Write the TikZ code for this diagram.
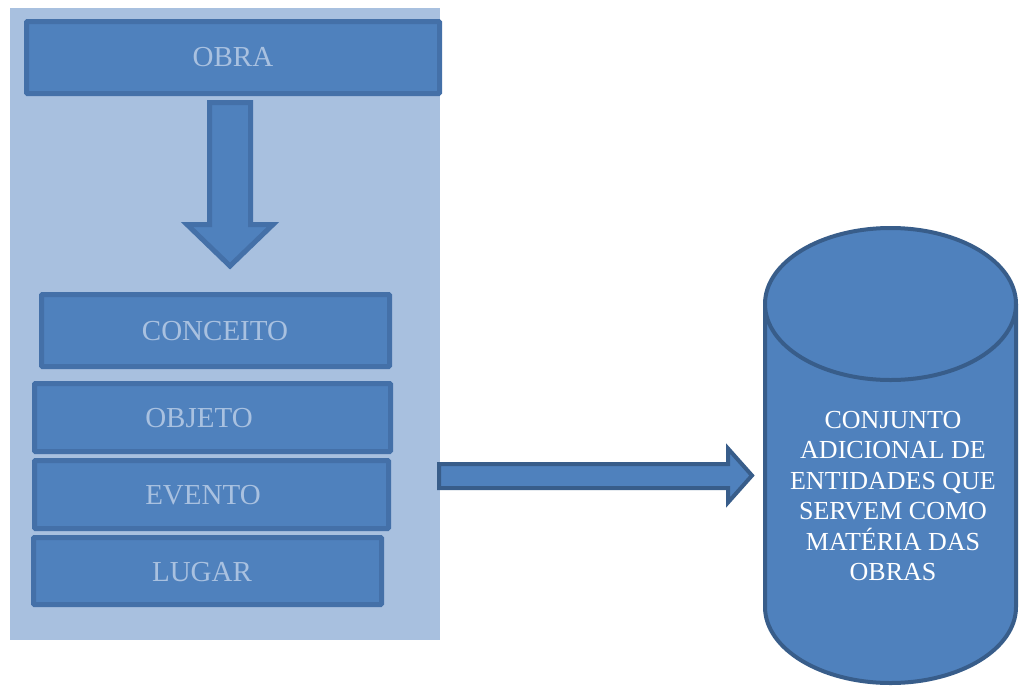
\documentclass[tikz,border=0pt]{standalone}
\usepackage{fontspec}
\setmainfont{Liberation Serif}
\definecolor{bgblue}{HTML}{A8C0DF}
\definecolor{fillblue}{HTML}{4F81BD}
\definecolor{boxline}{HTML}{4470A8}
\definecolor{darkline}{HTML}{385D8A}
\definecolor{paletext}{HTML}{A9C1E0}
\tikzset{
  bgbox/.style={fill=bgblue, draw=none, inner sep=0pt},
  entbox/.style={fill=fillblue, draw=boxline, line width=5pt, rounded corners=1pt, inner sep=0pt},
  boxtext/.style={text=paletext, font=\fontsize{29}{33}\selectfont, inner sep=0pt},
  cyltext/.style={text=white, font=\fontsize{26}{30.5}\selectfont, align=center, inner sep=0pt},
  blockarrowA/.style={fill=fillblue, draw=boxline, line width=5pt, line join=miter},
  blockarrowB/.style={fill=fillblue, draw=darkline, line width=4pt, line join=miter},
  cylstyle/.style={fill=fillblue, draw=darkline, line width=4pt},
}
\begin{document}
\begin{tikzpicture}[x=1pt, y=-1pt]
\useasboundingbox (0,0) rectangle (1020,686);
% background panel
\node[bgbox, minimum width=430pt, minimum height=632pt] (bg) at (225,324) {};
% OBRA
\node[entbox, minimum width=413pt, minimum height=72pt] (obra) at (233,57.5) {};
\node[boxtext] (obratxt) at (obra.center) {OBRA};
% down block arrow
\draw[blockarrowA] (209.5,102.5) -- (250.5,102.5) -- (250.5,224.5) -- (273,224.5) -- (230,266) -- (187,224.5) -- (209.5,224.5) -- cycle;
% entity boxes
\node[entbox, minimum width=348pt, minimum height=72pt] (conceito) at (215.5,330.5) {};
\node[boxtext] (conceitotxt) at (215,331) {CONCEITO};
\node[entbox, minimum width=356pt, minimum height=68pt] (objeto) at (212.5,417.5) {};
\node[boxtext] (objetotxt) at (199,418) {OBJETO};
\node[entbox, minimum width=354pt, minimum height=68pt] (evento) at (211.5,494.5) {};
\node[boxtext] (eventotxt) at (203,495) {EVENTO};
\node[entbox, minimum width=348pt, minimum height=67pt] (lugar) at (207.5,571) {};
\node[boxtext] (lugartxt) at (202,572) {LUGAR};
% right block arrow
\draw[blockarrowB] (439,464) -- (728,464) -- (728,448.5) -- (752,475.5) -- (728,502.5) -- (728,488) -- (439,488) -- cycle;
% cylinder
\fill[fillblue] (765,304) rectangle (1016,607);
\fill[fillblue] (890.5,607) ellipse [x radius=125.5pt, y radius=76pt];
\draw[darkline, line width=4pt] (765,304) -- (765,607) arc[start angle=180, end angle=360, x radius=125.5pt, y radius=76pt] -- (1016,304);
\draw[cylstyle] (890.5,304) ellipse [x radius=125.5pt, y radius=76pt];
\node[cyltext] (cyl) at (893,496) {CONJUNTO\\ADICIONAL DE\\ENTIDADES QUE\\SERVEM COMO\\MATÉRIA DAS\\OBRAS};
\end{tikzpicture}
\end{document}
